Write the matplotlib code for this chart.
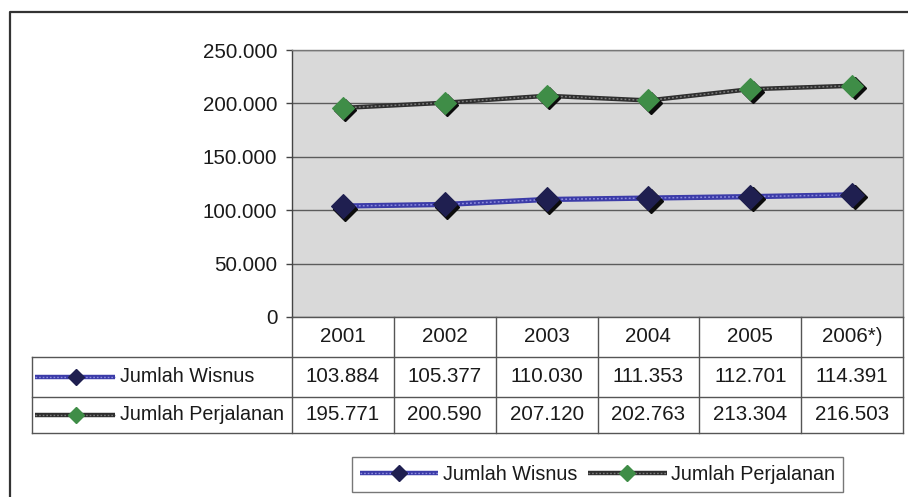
import numpy as np
import matplotlib
matplotlib.use("Agg")
import matplotlib.pyplot as plt
from matplotlib import transforms
from matplotlib.lines import Line2D
from matplotlib.ticker import FuncFormatter
from matplotlib.legend_handler import HandlerTuple

plt.rcParams['font.family'] = ['Liberation Sans', 'DejaVu Sans']

# --- data -------------------------------------------------------------
years = ['2001', '2002', '2003', '2004', '2005', '2006*)']
wisnus = [103884, 105377, 110030, 111353, 112701, 114391]
perjalanan = [195771, 200590, 207120, 202763, 213304, 216503]
series_names = ['Jumlah Wisnus', 'Jumlah Perjalanan']
y_ticks = [0, 50000, 100000, 150000, 200000, 250000]


def dotted(v):
    return f"{int(v):,}".replace(',', '.')


# --- layout helpers (pixel -> figure fraction) -----------------------
W, H = 908, 497
fig = plt.figure(figsize=(W / 100, H / 100), dpi=100)
fig.patch.set_facecolor('white')


def fx(px):
    return px / W


def fy(py):
    return 1 - py / H


TXT = '#1a1a1a'
GRID = '#5c5c5c'
FS = 14.8      # numbers
FS_NAME = 14.2  # series names

ax = fig.add_axes([fx(292), fy(317), fx(903) - fx(292), (317 - 50) / H])
ax.set_facecolor('#d9d9d9')
ax.set_xlim(-0.5, len(years) - 0.5)
ax.set_ylim(y_ticks[0], y_ticks[-1])
ax.set_yticks(y_ticks)
ax.yaxis.set_major_formatter(FuncFormatter(lambda v, _: dotted(v)))
ax.tick_params(axis='y', length=4.5, width=1, color='#444444',
               labelsize=FS, pad=6, labelcolor=TXT)
ax.set_xticks([])
ax.grid(axis='y', color=GRID, lw=1)
ax.set_axisbelow(True)
ax.spines['left'].set_color('#444444')
ax.spines['bottom'].set_color('#555555')
ax.spines['top'].set_color('#777777')
ax.spines['right'].set_color('#777777')
for s in ax.spines.values():
    s.set_linewidth(1)

x = np.arange(len(years))
shadow = transforms.offset_copy(ax.transData, fig=fig, x=2.5, y=-2.5, units='dots')

styles = [
    dict(vals=wisnus, base='#3b3ba8', dash='#8c8cdc', lw=3.8,
         mfc='#1f1f50', ms=12.5),
    dict(vals=perjalanan, base='#2e2e2e', dash='#7c7c7c', lw=3.2,
         mfc='#3f8d47', ms=11.5),
]

for st in styles:
    ax.plot(x, st['vals'], color=st['base'], lw=st['lw'], zorder=2,
            solid_capstyle='butt')
    ax.plot(x, st['vals'], color=st['dash'], lw=1.1, dashes=(1.2, 1.4),
            zorder=2.1)
    ax.plot(x, st['vals'], lw=0, marker='D', ms=st['ms'], mfc='#0c0c0c',
            mec='#0c0c0c', transform=shadow, zorder=3)
    ax.plot(x, st['vals'], lw=0, marker='D', ms=st['ms'], mfc=st['mfc'],
            mec=st['mfc'], mew=0.8, zorder=4)

# --- data table under the plot ---------------------------------------
blend = transforms.blended_transform_factory(ax.transData, fig.transFigure)
TL = '#555555'

# vertical column separators
for i in range(len(years) + 1):
    fig.add_artist(Line2D([i - 0.5, i - 0.5], [fy(317), fy(433)],
                          transform=blend, color=TL, lw=1))
# horizontal row separators
for py in (357, 397, 433):
    fig.add_artist(Line2D([fx(32), fx(903)], [fy(py), fy(py)],
                          transform=fig.transFigure, color=TL, lw=1))
fig.add_artist(Line2D([fx(32), fx(32)], [fy(357), fy(433)],
                      transform=fig.transFigure, color=TL, lw=1))

for i, yr in enumerate(years):
    fig.text(i, fy(337), yr, transform=blend, ha='center', va='center',
             fontsize=FS, color=TXT)

row_y = [377, 415]
for st, name, ry in zip(styles, series_names, row_y):
    for i, v in enumerate(st['vals']):
        fig.text(i, fy(ry), dotted(v), transform=blend, ha='center',
                 va='center', fontsize=FS, color=TXT)
    # legend key in the row header
    fig.add_artist(Line2D([fx(35), fx(115)], [fy(ry), fy(ry)],
                          transform=fig.transFigure, color=st['base'], lw=3.2,
                          solid_capstyle='butt'))
    fig.add_artist(Line2D([fx(35), fx(115)], [fy(ry), fy(ry)],
                          transform=fig.transFigure, color=st['dash'], lw=1.0,
                          dashes=(1.2, 1.4)))
    fig.add_artist(Line2D([fx(76)], [fy(ry)], transform=fig.transFigure,
                          lw=0, marker='D', ms=8, mfc=st['mfc'], mec=st['mfc']))
    fig.text(fx(120), fy(ry), name, ha='left', va='center', fontsize=FS_NAME,
             color=TXT)

# --- bottom legend -----------------------------------------------------
handles = []
for st in styles:
    handles.append((
        Line2D([], [], color=st['base'], lw=3.2, solid_capstyle='butt'),
        Line2D([], [], color=st['dash'], lw=1.0, dashes=(1.2, 1.4)),
        Line2D([], [], lw=0, marker='D', ms=8, mfc=st['mfc'], mec=st['mfc']),
    ))
leg = fig.legend(handles, series_names, ncol=2, loc='center',
                 bbox_to_anchor=(fx(597.5), fy(474.5)),
                 handler_map={tuple: HandlerTuple(ndivide=1, pad=0)},
                 frameon=True, fancybox=False, edgecolor='#555555',
                 fontsize=FS_NAME, handlelength=4.0, handletextpad=0.25,
                 columnspacing=0.5, borderpad=0.4, borderaxespad=0)
leg.get_frame().set_linewidth(1)
for t in leg.get_texts():
    t.set_color(TXT)

# --- outer chart frame (left and top edges) ---------------------------
fig.add_artist(Line2D([fx(10), fx(10), fx(908)], [fy(497), fy(12), fy(12)],
                      transform=fig.transFigure, color='#333333', lw=1.6))

fig.savefig('out.png', dpi=100)
